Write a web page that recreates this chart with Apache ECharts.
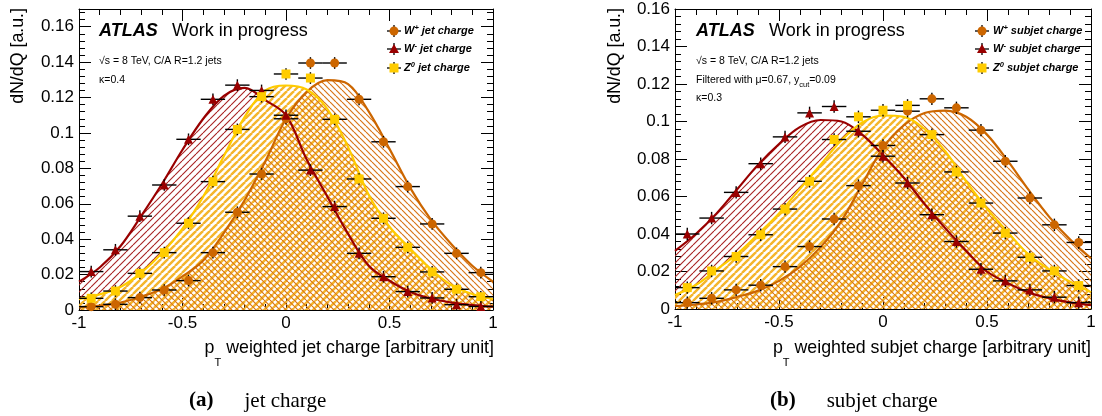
<!DOCTYPE html>
<html>
<head>
<meta charset="utf-8">
<title>Jet charge and subjet charge distributions</title>
<script src="https://cdn.jsdelivr.net/npm/echarts@6/dist/echarts.min.js"></script>
<style>
  html, body { margin: 0; padding: 0; background: #ffffff; }
  #chart { width: 1102px; height: 416px; }
</style>
</head>
<body>
<div id="chart"></div>
<script>
// ---- Binning shared by both histograms (17 bins over [-1, 1]) ----
const binCenters = [-0.941, -0.824, -0.706, -0.588, -0.471, -0.353, -0.235, -0.118, 0,
                    0.118, 0.235, 0.353, 0.471, 0.588, 0.706, 0.824, 0.941];
const binHalfWidth = 1 / 17;
const statErr = 0.0033;

// Abscissae at which the fitted curves are sampled
const fitX = [-1, -0.9, -0.8, -0.7, -0.6, -0.5, -0.4, -0.3, -0.2, -0.1, 0,
              0.1, 0.2, 0.3, 0.4, 0.5, 0.6, 0.7, 0.8, 0.9, 1];

// ---- (a) jet charge, kappa = 0.4 ----
const jetWplus  = [0.0019, 0.0032, 0.0070, 0.0113, 0.0166, 0.0324, 0.0552, 0.0768, 0.1080,
                   0.1395, 0.1395, 0.1190, 0.0950, 0.0697, 0.0486, 0.0320, 0.0211];
const jetWminus = [0.0217, 0.0340, 0.0530, 0.0706, 0.0964, 0.1190, 0.1270, 0.1240, 0.1100,
                   0.0790, 0.0584, 0.0320, 0.0188, 0.0104, 0.0068, 0.0030, 0.0020];
const jetZ0     = [0.0066, 0.0107, 0.0207, 0.0324, 0.0490, 0.0725, 0.1020, 0.1205, 0.1333,
                   0.1310, 0.1077, 0.0740, 0.0518, 0.0354, 0.0215, 0.0117, 0.0075];
const jetWplusFit  = [0.0016, 0.0025, 0.0042, 0.0075, 0.0118, 0.0190, 0.0280, 0.0435, 0.0620, 0.0840, 0.1080,
                      0.1232, 0.1298, 0.1276, 0.1120, 0.0910, 0.0690, 0.0510, 0.0370, 0.0250, 0.0160];
const jetWminusFit = [0.0160, 0.0240, 0.0360, 0.0530, 0.0710, 0.0905, 0.1080, 0.1210, 0.1255, 0.1185, 0.1100,
                      0.0850, 0.0640, 0.0430, 0.0250, 0.0165, 0.0102, 0.0065, 0.0042, 0.0028, 0.0019];
const jetZ0Fit     = [0.0062, 0.0088, 0.0130, 0.0210, 0.0320, 0.0460, 0.0640, 0.0870, 0.1090, 0.1240, 0.1268,
                      0.1245, 0.1135, 0.0920, 0.0650, 0.0470, 0.0345, 0.0230, 0.0140, 0.0090, 0.0062];

// ---- (b) subjet charge, kappa = 0.3 ----
const subWplus  = [0.0034, 0.0057, 0.0102, 0.0127, 0.0226, 0.0333, 0.0480, 0.0658, 0.0872,
                   0.1055, 0.1121, 0.1073, 0.0954, 0.0788, 0.0592, 0.0449, 0.0355];
const subWminus = [0.0400, 0.0485, 0.0622, 0.0775, 0.0918, 0.1046, 0.1080, 0.0948, 0.0815,
                   0.0672, 0.0503, 0.0360, 0.0212, 0.0150, 0.0102, 0.0063, 0.0034];
const subZ0     = [0.0114, 0.0203, 0.0280, 0.0396, 0.0533, 0.0681, 0.0904, 0.1025, 0.1060,
                   0.1086, 0.0930, 0.0731, 0.0565, 0.0405, 0.0276, 0.0203, 0.0125];
const subWplusFit  = [0.0015, 0.0024, 0.0038, 0.0065, 0.0098, 0.0150, 0.0225, 0.0330, 0.0470, 0.0665, 0.0859,
                      0.0980, 0.1045, 0.1058, 0.1025, 0.0930, 0.0790, 0.0635, 0.0490, 0.0370, 0.0270];
const subWminusFit = [0.0310, 0.0400, 0.0510, 0.0640, 0.0770, 0.0880, 0.0970, 0.1008, 0.1000, 0.0930, 0.0820,
                      0.0700, 0.0560, 0.0430, 0.0310, 0.0200, 0.0138, 0.0088, 0.0057, 0.0035, 0.0020];
const subZ0Fit     = [0.0075, 0.0128, 0.0210, 0.0295, 0.0400, 0.0510, 0.0640, 0.0770, 0.0900, 0.0995, 0.1032,
                      0.1025, 0.0960, 0.0840, 0.0680, 0.0535, 0.0410, 0.0290, 0.0210, 0.0145, 0.0090];

// Axis tick values
const xTickStep = 0.5;
const yTickStep = 0.02;
const yMaxJet = 0.17;
const yMaxSub = 0.16;

// ---- Styling ----
const SANS = "'Liberation Sans', Arial, Helvetica, sans-serif";
const SERIF = "'Liberation Serif', 'Times New Roman', serif";
const COL_WP = '#cc6600';
const COL_WM = '#990000';
const COL_Z0 = '#ffcc00';

// Diagonal hatch tile used as a repeating fill pattern
function hatch(color, lineWidth, size, dir) {
  const c = document.createElement('canvas');
  c.width = size; c.height = size;
  const g = c.getContext('2d');
  g.strokeStyle = color;
  g.lineWidth = lineWidth;
  for (let k = -1; k <= 1; k++) {
    g.beginPath();
    if (dir === '/') { g.moveTo(k * size, size); g.lineTo(k * size + size, 0); }
    else { g.moveTo(k * size, 0); g.lineTo(k * size + size, size); }
    g.stroke();
  }
  return { image: c, repeat: 'repeat' };
}
// W- and Z0 share the same '/' lattice so the wider Z0 stripes sit on top of the W- lines
const FILL_WM = hatch('#a82222', 1.1, 7, '/');
const FILL_Z0 = hatch('#f5b62c', 2.4, 7, '/');
const FILL_WP = hatch('#d8761a', 1.2, 6, '\\');

function areaSeries(idx, fit, fill, lineColor) {
  return {
    type: 'line', xAxisIndex: idx, yAxisIndex: idx, silent: true,
    data: fitX.map((x, i) => [x, fit[i]]),
    smooth: 0.35, showSymbol: false, symbol: 'none',
    lineStyle: lineColor ? { color: lineColor, width: 2.2 } : { width: 0, opacity: 0 },
    areaStyle: { color: fill, opacity: 1, origin: 'start' },
    z: 2
  };
}
function fitLineSeries(idx, fit, color) {
  return {
    type: 'line', xAxisIndex: idx, yAxisIndex: idx, silent: true,
    data: fitX.map((x, i) => [x, fit[i]]),
    smooth: 0.35, showSymbol: false, symbol: 'none',
    lineStyle: { color: color, width: 2.2 },
    z: 2
  };
}

function errorSeries(idx, vals) {
  return {
    type: 'custom', xAxisIndex: idx, yAxisIndex: idx, silent: true, clip: true,
    data: binCenters.map((x, i) => [x, vals[i]]),
    renderItem: function (params, api) {
      const x = api.value(0), y = api.value(1);
      const l = api.coord([x - binHalfWidth, y]);
      const r = api.coord([x + binHalfWidth, y]);
      const t = api.coord([x, y + statErr]);
      const b = api.coord([x, Math.max(0, y - statErr)]);
      const st = { stroke: '#000', lineWidth: 1.4 };
      return {
        type: 'group',
        children: [
          { type: 'line', shape: { x1: l[0], y1: l[1], x2: r[0], y2: r[1] }, style: st },
          { type: 'line', shape: { x1: t[0], y1: t[1], x2: b[0], y2: b[1] }, style: st }
        ]
      };
    },
    z: 3
  };
}

function markerSeries(idx, vals, symbol, size, color) {
  return {
    type: 'scatter', xAxisIndex: idx, yAxisIndex: idx, silent: true,
    data: binCenters.map((x, i) => [x, vals[i]]),
    symbol: symbol, symbolSize: size,
    itemStyle: { color: color, borderWidth: 0, opacity: 1 },
    z: 4
  };
}

function xAxisDef(grid, pos) {
  return {
    gridIndex: grid, type: 'value', position: pos, min: -1, max: 1, interval: xTickStep,
    axisLine: { show: true, onZero: false, lineStyle: { color: '#000', width: 1 } },
    axisTick: { show: true, inside: true, length: 12, lineStyle: { color: '#000', width: 1 } },
    minorTick: { show: true, splitNumber: 5, length: 6, lineStyle: { color: '#000', width: 1 } },
    axisLabel: { show: pos === 'bottom', color: '#000', fontFamily: SANS, fontSize: 17, margin: 5 },
    splitLine: { show: false }, minorSplitLine: { show: false }
  };
}
function yAxisDef(grid, pos, max) {
  return {
    gridIndex: grid, type: 'value', position: pos, min: 0, max: max, interval: yTickStep,
    axisLine: { show: true, onZero: false, lineStyle: { color: '#000', width: 1 } },
    axisTick: { show: true, inside: true, length: 12, lineStyle: { color: '#000', width: 1 } },
    minorTick: { show: true, splitNumber: 5, length: 6, lineStyle: { color: '#000', width: 1 } },
    axisLabel: { show: pos === 'left', color: '#000', fontFamily: SANS, fontSize: 17, margin: 5,
                 showMaxLabel: max === yMaxSub },
    splitLine: { show: false }, minorSplitLine: { show: false }
  };
}

// Plain text helper for graphic annotations
function txt(x, y, text, font, opts) {
  const o = opts || {};
  return {
    type: 'text', x: x, y: y, rotation: o.rotation || 0, silent: true, z: 10,
    style: Object.assign({
      text: text, font: font, fill: '#000',
      align: o.align || 'left', verticalAlign: o.vAlign || 'middle',
      textAlign: o.align || 'left', textVerticalAlign: o.vAlign || 'middle'
    }, o.rich ? { rich: o.rich } : {})
  };
}

const legendRich = {
  b: { fontFamily: SANS, fontSize: 11, fontWeight: 'bold', fontStyle: 'italic', lineHeight: 14, verticalAlign: 'middle' },
  s: { fontFamily: SANS, fontSize: 7.5, fontWeight: 'bold', fontStyle: 'italic', lineHeight: 8, verticalAlign: 'top' }
};

function legendEntry(cx, y, tx, kind, color, label) {
  const els = [
    { type: 'line', silent: true, z: 10, shape: { x1: cx - 7, y1: y, x2: cx + 7, y2: y }, style: { stroke: '#000', lineWidth: 1.3 } },
    { type: 'line', silent: true, z: 10, shape: { x1: cx, y1: y - 6, x2: cx, y2: y + 6 }, style: { stroke: '#000', lineWidth: 1.3 } }
  ];
  if (kind === 'circle') els.push({ type: 'circle', silent: true, z: 11, shape: { cx: cx, cy: y, r: 4.5 }, style: { fill: color } });
  if (kind === 'triangle') els.push({ type: 'polygon', silent: true, z: 11, shape: { points: [[cx, y - 5], [cx - 5, y + 4], [cx + 5, y + 4]] }, style: { fill: color } });
  if (kind === 'rect') els.push({ type: 'rect', silent: true, z: 11, shape: { x: cx - 4.5, y: y - 4.5, width: 9, height: 9 }, style: { fill: color } });
  els.push(txt(tx, y, label, 'bold italic 11px ' + SANS, { rich: legendRich }));
  return els;
}

const xTitleRich = {
  m: { fontFamily: SANS, fontSize: 17.8, lineHeight: 40, verticalAlign: 'middle' },
  u: { fontFamily: SANS, fontSize: 11, lineHeight: 12, verticalAlign: 'bottom' }
};
const smallRich = {
  m: { fontFamily: SANS, fontSize: 10.5, lineHeight: 18, verticalAlign: 'middle' },
  u: { fontFamily: SANS, fontSize: 7.5, lineHeight: 8, verticalAlign: 'bottom' }
};
const captionRich = {
  b: { fontFamily: SERIF, fontSize: 21, fontWeight: 'bold', padding: [0, 31, 0, 0] },
  n: { fontFamily: SERIF, fontSize: 21 }
};

const graphics = [].concat(
  // Panel (a) annotations
  [
    txt(18, 8, 'dN/dQ [a.u.]', '17.8px ' + SANS, { rotation: Math.PI / 2, align: 'right' }),
    txt(99, 31, 'ATLAS', 'bold italic 18px ' + SANS),
    txt(172, 31, 'Work in progress', '18px ' + SANS),
    txt(99, 61, '\u221As = 8 TeV, C/A R=1.2 jets', '10.5px ' + SANS),
    txt(99, 80, '\u03BA=0.4', '10.5px ' + SANS),
    txt(494, 348, '{m|p}{u|T}{m| weighted jet charge [arbitrary unit]}', '17.8px ' + SANS, { align: 'right', rich: xTitleRich }),
    txt(189, 401, '{b|(a)}{n|jet charge}', '21px ' + SERIF, { rich: captionRich })
  ],
  legendEntry(394, 31, 404, 'circle', COL_WP, '{b|W}{s|+}{b| jet charge}'),
  legendEntry(394, 49, 404, 'triangle', COL_WM, '{b|W}{s|-}{b| jet charge}'),
  legendEntry(394, 68, 404, 'rect', COL_Z0, '{b|Z}{s|0}{b| jet charge}'),
  // Panel (b) annotations
  [
    txt(615, 8, 'dN/dQ [a.u.]', '17.8px ' + SANS, { rotation: Math.PI / 2, align: 'right' }),
    txt(696, 31, 'ATLAS', 'bold italic 18px ' + SANS),
    txt(769, 31, 'Work in progress', '18px ' + SANS),
    txt(696, 61, '\u221As = 8 TeV, C/A R=1.2 jets', '10.5px ' + SANS),
    txt(696, 80, '{m|Filtered with \u03BC=0.67, y}{u|cut}{m|=0.09}', '10.5px ' + SANS, { rich: smallRich }),
    txt(696, 98, '\u03BA=0.3', '10.5px ' + SANS),
    txt(1091, 348, '{m|p}{u|T}{m| weighted subjet charge [arbitrary unit]}', '17.8px ' + SANS, { align: 'right', rich: xTitleRich }),
    txt(770, 401, '{b|(b)}{n|subjet charge}', '21px ' + SERIF, { rich: captionRich })
  ],
  legendEntry(982, 31, 993, 'circle', COL_WP, '{b|W}{s|+}{b| subjet charge}'),
  legendEntry(982, 49, 993, 'triangle', COL_WM, '{b|W}{s|-}{b| subjet charge}'),
  legendEntry(982, 68, 993, 'rect', COL_Z0, '{b|Z}{s|0}{b| subjet charge}')
);

const option = {
  animation: false,
  backgroundColor: '#ffffff',
  grid: [
    { left: 79, top: 9, width: 414, height: 301, outerBoundsMode: 'none', containLabel: false },
    { left: 675, top: 9, width: 416, height: 300, outerBoundsMode: 'none', containLabel: false }
  ],
  xAxis: [xAxisDef(0, 'bottom'), xAxisDef(1, 'bottom'), xAxisDef(0, 'top'), xAxisDef(1, 'top')],
  yAxis: [yAxisDef(0, 'left', yMaxJet), yAxisDef(1, 'left', yMaxSub), yAxisDef(0, 'right', yMaxJet), yAxisDef(1, 'right', yMaxSub)],
  series: [
    // hatched fills: W- (with its fit line underneath the later hatches), then Z0, then W+
    areaSeries(0, jetWminusFit, FILL_WM, COL_WM),
    areaSeries(0, jetZ0Fit, FILL_Z0, null),
    areaSeries(0, jetWplusFit, FILL_WP, null),
    areaSeries(1, subWminusFit, FILL_WM, COL_WM),
    areaSeries(1, subZ0Fit, FILL_Z0, null),
    areaSeries(1, subWplusFit, FILL_WP, null),
    // fitted curves drawn over the hatching
    fitLineSeries(0, jetWplusFit, COL_WP),
    fitLineSeries(0, jetZ0Fit, COL_Z0),
    fitLineSeries(1, subWplusFit, COL_WP),
    fitLineSeries(1, subZ0Fit, COL_Z0),
    // data points with error bars
    errorSeries(0, jetWplus), errorSeries(0, jetWminus), errorSeries(0, jetZ0),
    errorSeries(1, subWplus), errorSeries(1, subWminus), errorSeries(1, subZ0),
    markerSeries(0, jetWplus, 'circle', 9, COL_WP),
    markerSeries(0, jetWminus, 'triangle', 9, COL_WM),
    markerSeries(0, jetZ0, 'rect', 9, COL_Z0),
    markerSeries(1, subWplus, 'circle', 9, COL_WP),
    markerSeries(1, subWminus, 'triangle', 9, COL_WM),
    markerSeries(1, subZ0, 'rect', 9, COL_Z0)
  ],
  graphic: { elements: graphics }
};

const chart = echarts.init(document.getElementById('chart'), null, { renderer: 'canvas' });
chart.setOption(option);
</script>
</body>
</html>
